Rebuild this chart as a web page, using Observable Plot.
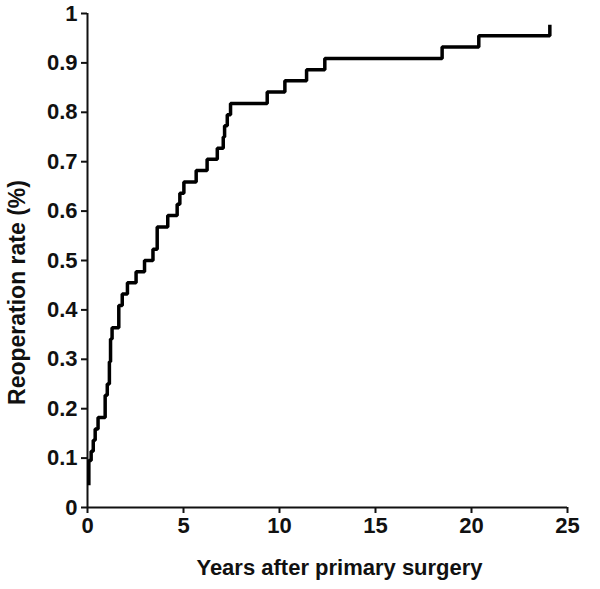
<!DOCTYPE html>
<html>
<head>
<meta charset="utf-8">
<script src="https://cdn.jsdelivr.net/npm/d3@7"></script>
<script src="https://cdn.jsdelivr.net/npm/@observablehq/plot@0.6"></script>
<style>
  html, body { margin: 0; padding: 0; background: #fff; }
</style>
</head>
<body>
<div id="chart"></div>
<script>
// Years after primary surgery at each step (step-after)
const years = [0.07, 0.07, 0.19, 0.3, 0.4, 0.55, 0.92, 1.03, 1.14, 1.2, 1.28, 1.63, 1.81, 2.08, 2.53, 2.97, 3.41, 3.63, 4.18, 4.67, 4.81, 5.02, 5.66, 6.23, 6.76, 7.07, 7.14, 7.28, 7.45, 9.36, 10.28, 11.41, 12.36, 18.47, 20.38, 24.08];
// Cumulative reoperation rate after each step
const rates = [0.045, 0.095, 0.114, 0.136, 0.159, 0.182, 0.227, 0.25, 0.295, 0.341, 0.364, 0.409, 0.432, 0.455, 0.477, 0.5, 0.523, 0.568, 0.591, 0.614, 0.636, 0.659, 0.682, 0.705, 0.727, 0.75, 0.773, 0.795, 0.818, 0.841, 0.864, 0.886, 0.909, 0.932, 0.955, 0.977];
const xTicks = [0, 5, 10, 15, 20, 25];
const yTicks = [0, 0.1, 0.2, 0.3, 0.4, 0.5, 0.6, 0.7, 0.8, 0.9, 1];
const xLabel = "Years after primary surgery";
const yLabel = "Reoperation rate (%)";

const data = years.map((t, i) => ({t, v: rates[i]}));

const chart = Plot.plot({
  width: 600,
  height: 589,
  marginLeft: 87,
  marginRight: 33,
  marginTop: 13,
  marginBottom: 82,
  style: {fontFamily: "'Liberation Sans', Arial, sans-serif", fontWeight: "bold", background: "#fff", color: "#111"},
  x: {domain: [0, 25]},
  y: {domain: [0, 1]},
  marks: [
    Plot.axisX({ticks: xTicks, tickFormat: d => String(d), tickSize: 6, tickPadding: 4, fontSize: 22, strokeWidth: 2, label: null}),
    Plot.axisY({ticks: yTicks, tickFormat: d => String(d), tickSize: 6, tickPadding: 4, fontSize: 22, strokeWidth: 2, label: null}),
    Plot.ruleX([0], {strokeWidth: 2}),
    Plot.ruleY([0], {strokeWidth: 2}),
    Plot.line(data, {x: "t", y: "v", curve: "step-after", stroke: "#000", strokeWidth: 3.5, strokeLinejoin: "miter", strokeLinecap: "butt"}),
    Plot.text([xLabel], {frameAnchor: "bottom", dy: 67, dx: 12, fontSize: 22, fontWeight: "bold", text: d => d}),
    Plot.text([yLabel], {frameAnchor: "left", dx: -70, dy: 32, rotate: -90, textAnchor: "middle", fontSize: 23, fontWeight: "bold", text: d => d})
  ]
});
document.getElementById("chart").appendChild(chart);
</script>
</body>
</html>
